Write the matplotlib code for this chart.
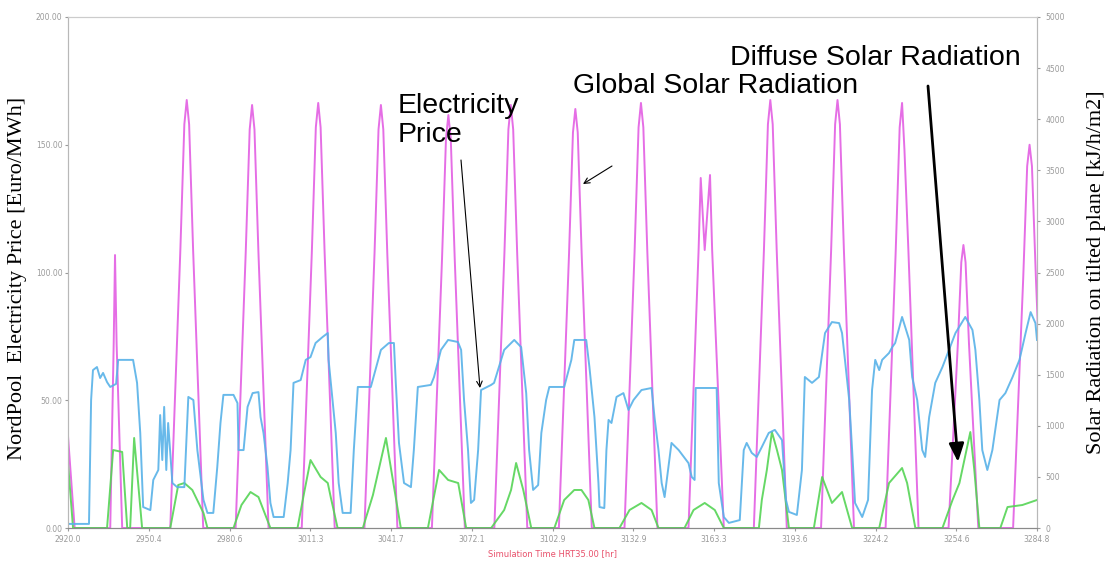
import matplotlib
matplotlib.use("Agg")
import matplotlib.pyplot as plt
import numpy as np

# ---- data ----
# NordPool electricity price, Euro/MWh (left axis)
price_hours = [
    2920.0, 2927.9, 2928.7, 2929.4, 2930.9, 2932.1, 2933.2, 2934.7, 2935.9, 2938.1,
    2938.9, 2944.5, 2946.0, 2947.2, 2948.3, 2951.0, 2952.1, 2954.0, 2954.7, 2955.5,
    2956.2, 2957.0, 2957.7, 2959.3, 2961.1, 2963.8, 2965.3, 2967.2, 2968.7, 2971.0,
    2972.5, 2974.7, 2976.2, 2977.4, 2978.5, 2982.3, 2983.8, 2984.2, 2986.1, 2987.6,
    2989.5, 2991.7, 2992.5, 2993.6, 2995.1, 2996.2, 2997.4, 3001.2, 3002.7, 3003.8,
    3004.9, 3007.6, 3009.5, 3011.3, 3013.2, 3015.9, 3017.8, 3018.1, 3019.6, 3020.8,
    3021.9, 3023.4, 3026.4, 3027.6, 3029.1, 3034.0, 3034.7, 3037.8, 3040.8, 3042.7,
    3043.4, 3044.6, 3046.5, 3049.1, 3050.2, 3051.7, 3056.6, 3057.8, 3060.4, 3063.1,
    3066.8, 3068.0, 3069.1, 3070.6, 3071.7, 3072.9, 3074.4, 3075.5, 3079.3, 3080.4,
    3084.2, 3088.0, 3090.6, 3092.5, 3093.6, 3095.1, 3097.0, 3098.2, 3100.0, 3101.2,
    3106.8, 3109.5, 3110.6, 3115.1, 3116.3, 3118.2, 3119.7, 3120.1, 3121.9, 3122.7,
    3123.5, 3124.6, 3126.5, 3129.1, 3131.0, 3132.9, 3135.9, 3139.7, 3140.8, 3142.3,
    3143.5, 3144.6, 3147.2, 3149.9, 3153.6, 3154.8, 3155.9, 3156.3, 3164.2, 3165.0,
    3166.9, 3168.8, 3172.9, 3174.4, 3175.5, 3177.4, 3179.3, 3181.2, 3183.8, 3186.1,
    3188.8, 3190.3, 3191.4, 3194.4, 3196.3, 3197.4, 3200.1, 3202.7, 3205.0, 3207.6,
    3210.3, 3211.4, 3212.5, 3214.1, 3215.2, 3216.3, 3219.0, 3221.2, 3222.7, 3223.9,
    3225.4, 3226.5, 3229.1, 3230.3, 3231.4, 3234.0, 3236.7, 3237.8, 3239.7, 3241.6,
    3242.7, 3244.2, 3246.5, 3249.2, 3254.1, 3257.8, 3260.5, 3261.6, 3263.1, 3264.2,
    3266.1, 3268.0, 3270.7, 3272.9, 3275.6, 3278.2, 3280.5, 3282.4, 3284.2, 3284.8,
]
price_values = [
    1.6, 1.6, 50.1, 61.8, 63.0, 58.7, 60.7, 57.1, 55.2, 56.4,
    65.8, 65.8, 56.8, 37.2, 8.2, 7.0, 18.8, 22.7, 44.2, 26.6,
    47.4, 22.7, 41.1, 17.6, 16.0, 16.0, 51.3, 50.1, 30.5, 11.0,
    5.9, 5.9, 23.9, 41.1, 52.1, 52.1, 48.9, 30.5, 30.5, 47.4,
    52.8, 53.2, 43.4, 37.2, 23.9, 9.8, 4.3, 4.3, 17.6, 30.5,
    56.8, 57.9, 65.8, 66.9, 72.4, 74.8, 76.3, 65.8, 50.1, 37.2,
    17.6, 5.9, 5.9, 30.5, 55.2, 55.2, 57.9, 69.7, 72.4, 72.4,
    56.8, 33.3, 17.6, 16.0, 30.5, 55.2, 56.0, 59.1, 69.7, 73.6,
    72.8, 69.7, 50.1, 30.5, 9.8, 11.0, 30.5, 54.0, 56.0, 56.8,
    69.7, 73.6, 70.8, 52.8, 30.5, 14.9, 16.8, 37.2, 50.1, 55.2,
    55.2, 65.8, 73.6, 73.6, 63.0, 43.4, 17.6, 8.2, 7.8, 30.5,
    42.3, 41.1, 51.3, 52.8, 46.2, 50.1, 54.0, 54.8, 43.4, 30.5,
    17.6, 12.1, 33.3, 30.5, 25.4, 20.0, 18.8, 54.8, 54.8, 17.6,
    4.3, 2.0, 3.1, 30.5, 33.3, 29.4, 27.8, 31.7, 37.2, 38.4,
    34.4, 11.0, 6.3, 5.1, 22.7, 59.1, 56.8, 59.1, 76.3, 80.6,
    80.2, 76.3, 65.8, 50.1, 30.5, 9.8, 4.3, 11.0, 54.0, 65.8,
    61.8, 65.8, 68.5, 70.8, 72.4, 82.6, 73.6, 59.1, 50.1, 30.5,
    27.8, 43.4, 56.8, 63.0, 76.3, 82.6, 77.5, 69.7, 50.1, 30.5,
    22.7, 30.5, 50.1, 52.8, 59.1, 65.8, 76.3, 84.5, 80.2, 73.6,
]

# Global solar radiation on tilted plane, kJ/h/m2 (right axis)
global_hours = [
    2920.0, 2922.5,
    2935.9, 2937.2, 2937.7, 2938.3, 2940.4,
    2958.5, 2962.3, 2963.8, 2964.7, 2965.6, 2967.1, 2970.9,
    2983.1, 2986.9, 2988.4, 2989.3, 2990.2, 2991.7, 2995.5,
    3008.0, 3011.8, 3013.3, 3014.2, 3015.1, 3016.6, 3020.4,
    3031.6, 3035.4, 3036.9, 3037.8, 3038.7, 3040.2, 3044.0,
    3057.0, 3060.8, 3062.3, 3063.2, 3064.1, 3065.6, 3069.4,
    3080.5, 3084.3, 3085.8, 3086.7, 3087.6, 3089.1, 3092.9,
    3104.8, 3108.6, 3110.1, 3111.0, 3111.9, 3113.4, 3117.2,
    3129.5, 3133.3, 3134.8, 3135.7, 3136.6, 3138.1, 3141.9,
    3153.6, 3157.4, 3158.2, 3159.7, 3161.7, 3162.5, 3166.9,
    3178.2, 3182.0, 3183.5, 3184.4, 3185.3, 3186.8, 3190.6,
    3203.5, 3207.3, 3208.8, 3209.7, 3210.6, 3212.1, 3215.9,
    3227.8, 3231.6, 3233.1, 3234.0, 3234.9, 3236.4, 3240.2,
    3251.5, 3255.0, 3256.3, 3257.1, 3257.9, 3259.2, 3262.7,
    3275.8, 3279.6, 3281.1, 3282.0, 3282.9, 3284.4, 3288.2,
]
global_values = [
    900, 0,
    0, 1800, 2671, 1800, 0,
    0, 2722, 3950, 4188, 3950, 2722, 0,
    0, 2690, 3900, 4139, 3900, 2690, 0,
    0, 2703, 3920, 4159, 3920, 2703, 0,
    0, 2690, 3900, 4139, 3900, 2690, 0,
    0, 2627, 3810, 4041, 3810, 2627, 0,
    0, 2690, 3900, 4139, 3900, 2690, 0,
    0, 2665, 3870, 4100, 3870, 2665, 0,
    0, 2703, 3920, 4159, 3920, 2703, 0,
    0, 2720, 3425, 2720, 3454, 2720, 0,
    0, 2722, 3950, 4188, 3950, 2722, 0,
    0, 2722, 3950, 4188, 3950, 2722, 0,
    0, 2703, 3920, 4159, 3700, 2703, 0,
    0, 1800, 2600, 2769, 2600, 1800, 0,
    0, 2438, 3540, 3750, 3540, 2438, 0,
]

# Diffuse solar radiation on tilted plane, kJ/h/m2 (right axis)
diffuse_hours = [
    2920.0, 2921.9,
    2934.7, 2937.0, 2940.4, 2942.3, 2943.4, 2944.9, 2947.9,
    2958.5, 2961.5, 2963.8, 2966.8, 2971.0, 2972.5,
    2982.3, 2985.3, 2988.7, 2991.7, 2996.2,
    3006.4, 3009.1, 3011.3, 3015.1, 3017.8, 3018.9, 3021.5,
    3031.0, 3034.8, 3037.8, 3039.7, 3042.3, 3045.3,
    3055.5, 3059.7, 3063.1, 3066.9, 3069.9,
    3079.3, 3084.2, 3086.8, 3088.7, 3091.4, 3094.4,
    3103.1, 3106.8, 3110.6, 3113.3, 3115.9, 3118.2,
    3127.6, 3131.4, 3135.9, 3139.7, 3142.3,
    3152.1, 3155.5, 3159.7, 3163.5, 3166.9,
    3180.1, 3181.2, 3183.1, 3185.0, 3186.9, 3188.8, 3191.4,
    3200.8, 3203.9, 3207.6, 3211.4, 3215.2,
    3225.4, 3229.1, 3234.0, 3235.9, 3239.0,
    3249.2, 3253.0, 3255.6, 3259.7, 3261.2, 3263.1,
    3271.0, 3273.7, 3279.3, 3284.8,
]
diffuse_values = [
    636, 0,
    0, 763, 744, 0, 0, 881, 0,
    0, 421, 440, 372, 147, 0,
    0, 225, 352, 303, 0,
    0, 372, 665, 499, 440, 303, 0,
    0, 323, 665, 881, 470, 0,
    0, 568, 470, 440, 0,
    0, 176, 372, 636, 372, 0,
    0, 274, 372, 372, 274, 0,
    0, 176, 245, 176, 0,
    0, 176, 245, 176, 0,
    0, 274, 568, 939, 763, 568, 0,
    0, 499, 245, 352, 0,
    0, 440, 587, 440, 0,
    0, 274, 440, 939, 568, 0,
    0, 205, 225, 274,
]

x_tick_labels = ["2920.0", "2950.4", "2980.6", "3011.3", "3041.7", "3072.1", "3102.9",
                 "3132.9", "3163.3", "3193.6", "3224.2", "3254.6", "3284.8"]
price_ticks = [0, 50, 100, 150, 200]
price_tick_labels = ["0.00", "50.00", "100.00", "150.00", "200.00"]
rad_ticks = [0, 500, 1000, 1500, 2000, 2500, 3000, 3500, 4000, 4500, 5000]

W, H = 1112, 563


def fpos(x, y):
    # pixel position (from top-left) -> figure fraction
    return (x / W, 1 - y / H)


fig = plt.figure(figsize=(W / 100, H / 100), dpi=100)
ax = fig.add_axes([68 / W, 35 / H, 969 / W, 511 / H])
ax2 = ax.twinx()

ax2.plot(global_hours, global_values, color="#e35ee3", lw=1.4, alpha=0.9)
ax2.plot(diffuse_hours, diffuse_values, color="#55d455", lw=1.4, alpha=0.9)
ax.plot(price_hours, price_values, color="#58b2e8", lw=1.4, alpha=0.9)
ax.set_zorder(ax2.get_zorder() + 1)
ax.patch.set_visible(False)

ax.set_xlim(2920, 3284.8)
ax.set_ylim(0, 200)
ax2.set_ylim(0, 5000)
ax.set_xticks(np.linspace(2920, 3284.8, len(x_tick_labels)))
ax.set_xticklabels(x_tick_labels)
ax.set_yticks(price_ticks)
ax.set_yticklabels(price_tick_labels)
ax2.set_yticks(rad_ticks)

tick_col = "#9a9a9a"
ax.tick_params(axis="x", length=2, pad=3, labelsize=5.5, colors=tick_col)
ax.tick_params(axis="y", length=2, pad=2, labelsize=5.5, colors=tick_col)
ax2.tick_params(axis="y", length=2, pad=4, labelsize=5.5, colors=tick_col)

for a in (ax, ax2):
    a.spines["left"].set_color("#b8b8b8")
    a.spines["right"].set_color("#b8b8b8")
    a.spines["top"].set_color("#cccccc")
    a.spines["bottom"].set_color("#8a8a8a")

ax.set_xlabel("Simulation Time HRT35.00 [hr]", color="#e8506a", fontsize=6, labelpad=4)

serif = ["Liberation Serif", "DejaVu Serif"]
fig.text(*fpos(18, 278), "NordPool  Electricity Price [Euro/MWh]", rotation=90,
         ha="center", va="center", fontsize=16, family=serif)
fig.text(*fpos(1097, 272), "Solar Radiation on tilted plane [kJ/h/m2]", rotation=90,
         ha="center", va="center", fontsize=16, family=serif)

sans = ["Liberation Sans", "DejaVu Sans"]
fig.text(*fpos(398, 93), "Electricity\nPrice", ha="left", va="top", fontsize=20.5,
         family=sans, linespacing=1.15)
fig.text(*fpos(716, 86), "Global Solar Radiation", ha="center", va="center",
         fontsize=20.5, family=sans)
fig.text(*fpos(875, 58), "Diffuse Solar Radiation", ha="center", va="center",
         fontsize=20.5, family=sans)

arrow_kw = dict(xycoords="figure fraction", textcoords="figure fraction",
                annotation_clip=False)
ax.annotate("", xy=fpos(480, 388), xytext=fpos(461, 160),
            arrowprops=dict(arrowstyle="->", lw=0.8, color="black",
                            shrinkA=0, shrinkB=0), **arrow_kw)
ax.annotate("", xy=fpos(583, 184), xytext=fpos(612, 166),
            arrowprops=dict(arrowstyle="->", lw=0.8, color="black",
                            shrinkA=0, shrinkB=0), **arrow_kw)
ax.annotate("", xy=fpos(958, 462), xytext=fpos(928, 86),
            arrowprops=dict(arrowstyle="-|>,head_length=1.1,head_width=0.45",
                            lw=2, color="black", shrinkA=0, shrinkB=0),
            **arrow_kw)

fig.savefig("out.png", dpi=100)
